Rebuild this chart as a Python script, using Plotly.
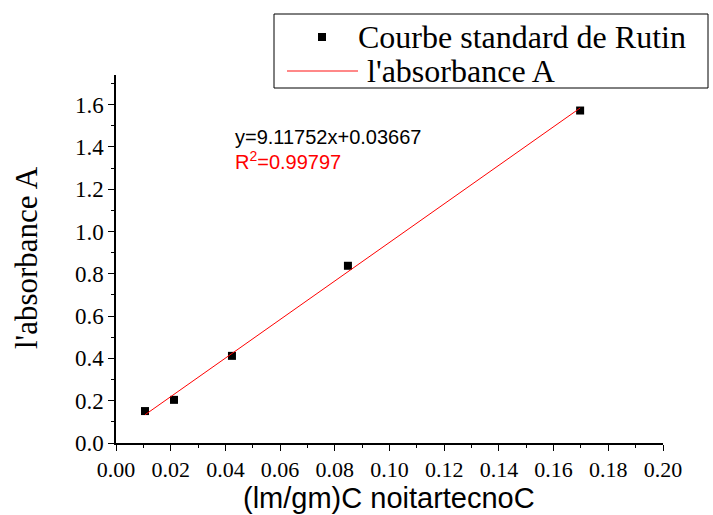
import plotly.graph_objects as go

conc = [0.0106, 0.0212, 0.0424, 0.0848, 0.1697]
absorb = [0.151, 0.204, 0.412, 0.838, 1.572]
slope = 9.11752
intercept = 0.03667
r2 = "0.99797"
x_ticks = [0.0, 0.02, 0.04, 0.06, 0.08, 0.10, 0.12, 0.14, 0.16, 0.18, 0.20]
y_ticks = [0.0, 0.2, 0.4, 0.6, 0.8, 1.0, 1.2, 1.4, 1.6]
legend_names = ["Courbe standard de Rutin", "l'absorbance A"]
x_title = "(lm/gm)C noitartecnoC"
y_title = "l'absorbance A"

fit_x = [min(conc), max(conc)]
fit_y = [slope * v + intercept for v in fit_x]

serif = "Liberation Serif, Times New Roman, serif"
sans = "Liberation Sans, Arial, sans-serif"

W, H = 713, 515
L, R, T, B = 116, 50, 75, 72
pw, ph = W - L - R, H - T - B


def px(x):
    return (x - L) / pw


def py(y):
    return (H - B - y) / ph


fig = go.Figure()
fig.add_trace(go.Scatter(x=conc, y=absorb, mode="markers", name=legend_names[0],
                         marker=dict(symbol="square", size=8, color="black")))
fig.add_trace(go.Scatter(x=fit_x, y=fit_y, mode="lines", name=legend_names[1],
                         line=dict(color="red", width=1)))

fig.add_annotation(x=px(233), y=py(137), xref="paper", yref="paper", text="y=9.11752x+0.03667",
                   showarrow=False, xanchor="left", yanchor="middle",
                   font=dict(family=sans, size=20, color="black"))
fig.add_annotation(x=px(233), y=py(160), xref="paper", yref="paper", text="R<sup>2</sup>=" + r2,
                   showarrow=False, xanchor="left", yanchor="middle",
                   font=dict(family=sans, size=20, color="red"))

# axis titles
fig.add_annotation(x=px(389), y=py(498), xref="paper", yref="paper", text=x_title,
                   showarrow=False, xanchor="center", yanchor="middle",
                   font=dict(family=sans, size=29, color="black"))
fig.add_annotation(x=px(26), y=py(258), xref="paper", yref="paper", text=y_title, textangle=-90,
                   showarrow=False, xanchor="center", yanchor="middle",
                   font=dict(family=serif, size=31, color="black"))

# custom legend box
fig.add_shape(type="rect", xref="paper", yref="paper", x0=px(274), x1=px(708), y0=py(88), y1=py(14),
              line=dict(color="black", width=1), fillcolor="white", layer="above")
fig.add_shape(type="rect", xref="paper", yref="paper", x0=px(318), x1=px(326), y0=py(41), y1=py(33),
              line=dict(color="black", width=0), fillcolor="black", layer="above")
fig.add_shape(type="line", xref="paper", yref="paper", x0=px(287), x1=px(358), y0=py(71), y1=py(71),
              line=dict(color="#ff6060", width=1.5), layer="above")
fig.add_annotation(x=px(356), y=py(37), xref="paper", yref="paper", text=legend_names[0],
                   showarrow=False, xanchor="left", yanchor="middle",
                   font=dict(family=serif, size=32, color="black"))
fig.add_annotation(x=px(365), y=py(71), xref="paper", yref="paper", text=legend_names[1],
                   showarrow=False, xanchor="left", yanchor="middle",
                   font=dict(family=serif, size=32, color="black"))

fig.update_layout(
    width=W, height=H,
    margin=dict(l=L, r=R, t=T, b=B),
    paper_bgcolor="white", plot_bgcolor="white",
    showlegend=False,
    xaxis=dict(range=[0, 0.2], tickvals=x_ticks, tickformat=".2f", automargin=False,
               showline=True, linecolor="black", linewidth=1.5, ticks="outside",
               ticklen=6, tickcolor="black", showgrid=False, zeroline=False,
               minor=dict(ticks="outside", ticklen=3, dtick=0.01, tickcolor="black", showgrid=False),
               tickfont=dict(family=serif, size=22, color="black")),
    yaxis=dict(range=[0, 1.74], tickvals=y_ticks, tickformat=".1f", automargin=False,
               showline=True, linecolor="black", linewidth=1.5, ticks="outside",
               ticklen=6, tickcolor="black", showgrid=False, zeroline=False,
               minor=dict(ticks="outside", ticklen=3, dtick=0.1, tickcolor="black", showgrid=False),
               tickfont=dict(family=serif, size=23, color="black")),
)

fig.write_html("out.html")
